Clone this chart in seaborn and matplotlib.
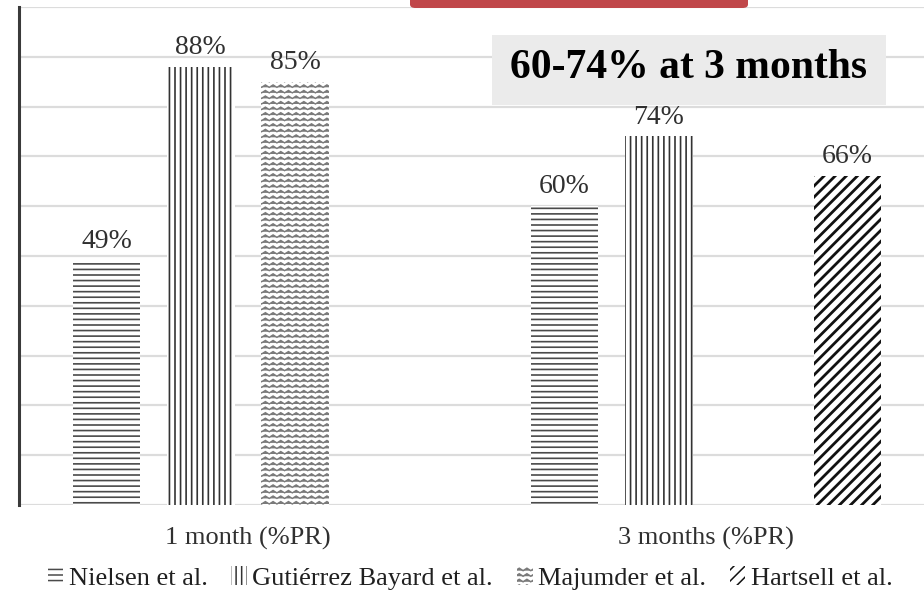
import warnings
import numpy as np
import pandas as pd
import matplotlib
matplotlib.use("Agg")
import matplotlib.pyplot as plt
import seaborn as sns
from matplotlib import hatch as mhatch
from matplotlib.path import Path
from matplotlib.patches import Patch, Rectangle, FancyBboxPatch

warnings.filterwarnings("ignore")

# ---- data -------------------------------------------------------------
timepoints = ["1 month (%PR)", "1 month (%PR)", "1 month (%PR)",
              "3 months (%PR)", "3 months (%PR)", "3 months (%PR)"]
studies = ["Nielsen et al.", "Gutiérrez Bayard et al.", "Majumder et al.",
           "Nielsen et al.", "Gutiérrez Bayard et al.", "Hartsell et al."]
response_pct = [49, 88, 85, 60, 74, 66]

study_order = ["Nielsen et al.", "Gutiérrez Bayard et al.",
               "Majumder et al.", "Hartsell et al."]
time_order = ["1 month (%PR)", "3 months (%PR)"]
headline = "60-74% at 3 months"

df = pd.DataFrame({"time": timepoints, "study": studies, "pct": response_pct})


# ---- a wavy hatch for the Majumder bars --------------------------------
class WaveHatch(mhatch.HatchPatternBase):
    def __init__(self, hatch, density):
        self.num_rows = int(hatch.count("~") * density)
        self.num_segs = 26
        self.num_vertices = self.num_rows * (self.num_segs + 1)

    def set_vertices_and_codes(self, vertices, codes):
        n = self.num_segs + 1
        xs = np.linspace(0.0, 1.0, n)
        amp = 0.22 / self.num_rows
        offs = np.where(np.arange(n) % 2 == 0, -amp, amp)
        rows = (np.arange(self.num_rows) + 0.5) / self.num_rows
        for i, y in enumerate(rows):
            s = slice(i * n, (i + 1) * n)
            vertices[s, 0] = xs
            vertices[s, 1] = y + offs
            codes[s] = Path.LINETO
            codes[i * n] = Path.MOVETO


mhatch._hatch_types.append(WaveHatch)

# ---- style --------------------------------------------------------------
sns.set_theme(style="white")
plt.rcParams["font.family"] = ["Liberation Serif", "DejaVu Serif"]
plt.rcParams["hatch.linewidth"] = 1.1

hatch_style = {
    "Nielsen et al.": ("---", "#4a4a4a", 1.2),
    "Gutiérrez Bayard et al.": ("|||", "#333333", 1.2),
    "Majumder et al.": ("~~~", "#7a7a7a", 1.0),
    "Hartsell et al.": ("///", "#111111", 2.0),
}

fig = plt.figure(figsize=(9.24, 6), dpi=100)
W, H = 924, 600
ax = fig.add_axes([19 / W, 1 - 505 / H, 916 / W, 498 / H])

sns.barplot(data=df, x="time", y="pct", hue="study", order=time_order,
            hue_order=study_order, palette=["white"] * 4, width=0.824,
            gap=0.28, dodge=True, legend=False, ax=ax, linewidth=0,
            edgecolor="none")

for study, cont in zip(study_order, ax.containers):
    h, col, lw = hatch_style[study]
    for bar in cont:
        bar.set_facecolor("white")
        bar.set_edgecolor(col)
        bar.set_linewidth(0)
        try:
            bar.set_hatch(h)
        except Exception:
            bar.set_hatch("xxxx")
        if hasattr(bar, "set_hatch_linewidth"):
            bar.set_hatch_linewidth(lw)
    ax.bar_label(cont, labels=[f"{v:.0f}%" for v in cont.datavalues],
                 padding=5, fontsize=20, color="#303030")

ax.set_xlim(-0.5, 1.5)
ax.set_ylim(0, 100)
ax.set_yticks(np.arange(0, 101, 10))
ax.set_yticklabels([])
ax.yaxis.grid(True, color="#dcdcdc", linewidth=1.6)
ax.set_axisbelow(True)
ax.tick_params(axis="y", length=0)
ax.tick_params(axis="x", length=0, pad=16, labelsize=19, labelcolor="#303030")
ax.set_xlabel("")
ax.set_ylabel("")
for side in ["top", "right", "bottom"]:
    ax.spines[side].set_visible(False)
ax.spines["left"].set_color("#3a3a3a")
ax.spines["left"].set_linewidth(2.2)

# legend with small hatched swatches
handles = []
for study in study_order:
    h, col, lw = hatch_style[study]
    p = Patch(facecolor="white", edgecolor=col, linewidth=0, hatch=h,
              label=study)
    if hasattr(p, "set_hatch_linewidth"):
        p.set_hatch_linewidth(lw)
    handles.append(p)
fig.legend(handles=handles, loc="center", bbox_to_anchor=(470 / W, 1 - 578 / H),
           ncol=4, frameon=False, fontsize=19, handlelength=0.6,
           handleheight=0.75, handletextpad=0.2, columnspacing=0.9,
           labelcolor="#202020")

# headline callout
fig.patches.append(Rectangle((492 / W, 1 - 105 / H), 394 / W, 70 / H,
                             transform=fig.transFigure, facecolor="#ebebeb",
                             edgecolor="none", zorder=5))
fig.text(689 / W, 1 - 68 / H, headline, ha="center", va="center",
         fontsize=30, fontweight="bold", color="black", zorder=6)

# red tab at the top edge
fig.patches.append(FancyBboxPatch((410 / W, 1 - 8 / H), 338 / W, 30 / H,
                                  boxstyle="round,pad=0,rounding_size=0.006",
                                  transform=fig.transFigure,
                                  facecolor="#c0474a", edgecolor="none",
                                  zorder=7))

fig.savefig("out.png", dpi=100)
